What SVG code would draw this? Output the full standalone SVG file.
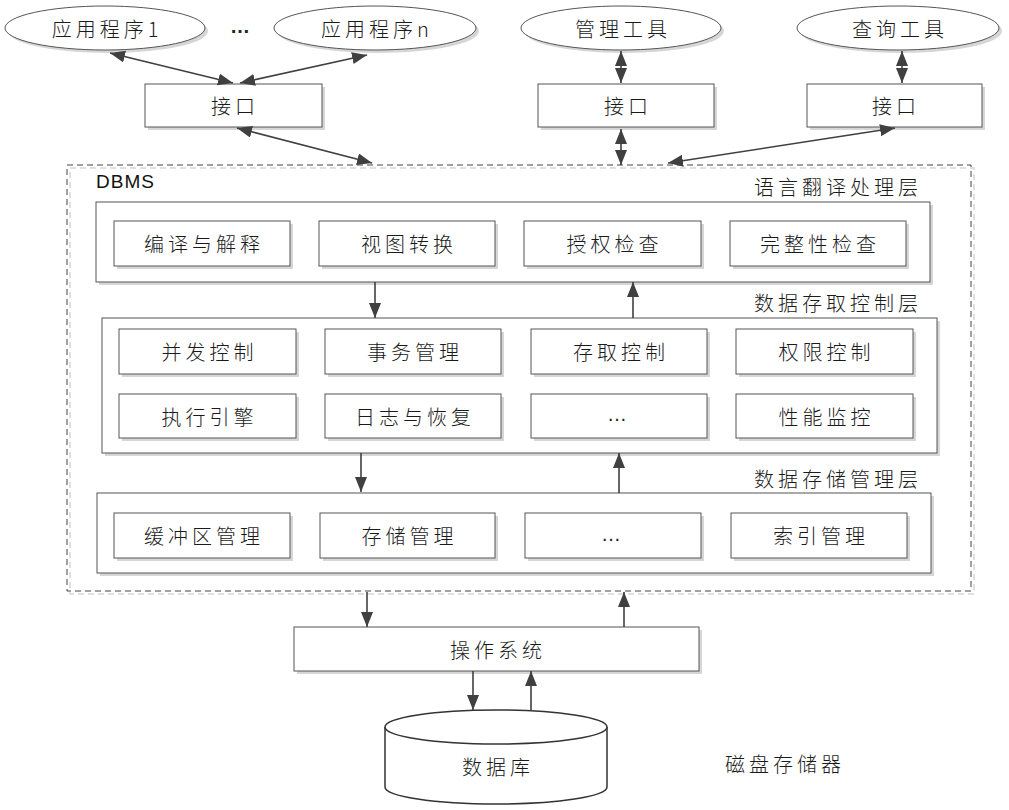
<svg xmlns="http://www.w3.org/2000/svg" width="1009" height="810" viewBox="0 0 1009 810">
<style>
  .bx{fill:#fff;stroke:#555;stroke-width:1}
  .sh{fill:#d6d6d6}
  .t{font-family:"Noto Sans CJK SC","Liberation Sans",sans-serif;font-size:20px;font-weight:300;fill:#1a1a1a;text-anchor:middle;dominant-baseline:central;letter-spacing:4px}
  .lb{font-family:"Noto Sans CJK SC","Liberation Sans",sans-serif;font-size:20px;font-weight:300;fill:#1a1a1a;text-anchor:end;dominant-baseline:central;letter-spacing:4px}
  .dots{font-family:"Liberation Sans",sans-serif;font-size:20px;fill:#222;text-anchor:middle;dominant-baseline:central}
  .ar{stroke:#404040;stroke-width:1.6;fill:none}
</style>
<defs>
  <marker id="ah" markerUnits="userSpaceOnUse" markerWidth="16" markerHeight="13" refX="15" refY="6" orient="auto-start-reverse">
    <path d="M0,0 L15,6 L0,12 z" fill="#404040"/>
  </marker>
</defs>
<rect width="1009" height="810" fill="#fff"/>

<!-- DBMS container -->
<g id="dbms">
  <rect x="70" y="168" width="904" height="426" fill="none" stroke="#e0e0e0" stroke-width="2" stroke-dasharray="6,4"/>
  <rect x="67" y="165" width="904" height="426" fill="none" stroke="#444" stroke-width="1" stroke-dasharray="6,4"/>
  <text x="96" y="181" font-family="Liberation Sans, sans-serif" font-size="19" fill="#111" dominant-baseline="central" letter-spacing="1">DBMS</text>
</g>

<!-- top ellipses -->
<g id="app1">
  <ellipse cx="108" cy="31" rx="100" ry="22" class="sh"/>
  <ellipse cx="105" cy="28" rx="100" ry="22" class="bx"/>
  <text x="107" y="28" class="t" letter-spacing="1">应用程序1</text>
</g>
<text id="dots-top" x="240" y="26" class="dots" font-weight="bold">…</text>
<g id="appn">
  <ellipse cx="378" cy="31" rx="101" ry="22" class="sh"/>
  <ellipse cx="375" cy="28" rx="101" ry="22" class="bx"/>
  <text x="377" y="28" class="t" letter-spacing="1">应用程序n</text>
</g>
<g id="mgmt">
  <ellipse cx="624" cy="31" rx="100" ry="22" class="sh"/>
  <ellipse cx="621" cy="28" rx="100" ry="22" class="bx"/>
  <text x="623" y="28" class="t">管理工具</text>
</g>
<g id="query">
  <ellipse cx="901" cy="31" rx="101" ry="22" class="sh"/>
  <ellipse cx="898" cy="28" rx="101" ry="22" class="bx"/>
  <text x="900" y="28" class="t">查询工具</text>
</g>

<!-- interfaces -->
<g id="if1"><rect x="148" y="87" width="177" height="43" class="sh"/><rect x="145" y="84" width="177" height="43" class="bx"/><text x="235" y="105.5" class="t">接口</text></g>
<g id="if2"><rect x="541" y="87" width="176" height="43" class="sh"/><rect x="538" y="84" width="176" height="43" class="bx"/><text x="628" y="105.5" class="t">接口</text></g>
<g id="if3"><rect x="810" y="87" width="175" height="43" class="sh"/><rect x="807" y="84" width="175" height="43" class="bx"/><text x="896" y="105.5" class="t">接口</text></g>

<!-- layer 1 -->
<g id="layer1">
  <text x="922" y="186" class="lb">语言翻译处理层</text>
  <rect x="99" y="205" width="834" height="80" class="sh"/>
  <rect x="96" y="202" width="834" height="80" class="bx"/>
</g>
<g id="l1a"><rect x="117" y="224" width="176" height="45" class="sh"/><rect x="114" y="221" width="176" height="45" class="bx"/><text x="204" y="243.5" class="t">编译与解释</text></g>
<g id="l1b"><rect x="322" y="224" width="176" height="45" class="sh"/><rect x="319" y="221" width="176" height="45" class="bx"/><text x="409" y="243.5" class="t">视图转换</text></g>
<g id="l1c"><rect x="527" y="224" width="177" height="45" class="sh"/><rect x="524" y="221" width="177" height="45" class="bx"/><text x="614.5" y="243.5" class="t">授权检查</text></g>
<g id="l1d"><rect x="733" y="224" width="176" height="45" class="sh"/><rect x="730" y="221" width="176" height="45" class="bx"/><text x="820" y="243.5" class="t">完整性检查</text></g>

<!-- layer 2 -->
<g id="layer2">
  <text x="922" y="302" class="lb">数据存取控制层</text>
  <rect x="105" y="321" width="835" height="135" class="sh"/>
  <rect x="102" y="318" width="835" height="135" class="bx"/>
</g>
<g id="l2a"><rect x="122" y="332" width="177" height="45" class="sh"/><rect x="119" y="329" width="177" height="45" class="bx"/><text x="209.5" y="351.5" class="t">并发控制</text></g>
<g id="l2b"><rect x="328" y="332" width="176" height="45" class="sh"/><rect x="325" y="329" width="176" height="45" class="bx"/><text x="415" y="351.5" class="t">事务管理</text></g>
<g id="l2c"><rect x="534" y="332" width="176" height="45" class="sh"/><rect x="531" y="329" width="176" height="45" class="bx"/><text x="621" y="351.5" class="t">存取控制</text></g>
<g id="l2d"><rect x="739" y="332" width="177" height="45" class="sh"/><rect x="736" y="329" width="177" height="45" class="bx"/><text x="826.5" y="351.5" class="t">权限控制</text></g>
<g id="l2e"><rect x="122" y="397" width="177" height="44" class="sh"/><rect x="119" y="394" width="177" height="44" class="bx"/><text x="209.5" y="416" class="t">执行引擎</text></g>
<g id="l2f"><rect x="328" y="397" width="176" height="44" class="sh"/><rect x="325" y="394" width="176" height="44" class="bx"/><text x="415" y="416" class="t">日志与恢复</text></g>
<g id="l2g"><rect x="534" y="397" width="176" height="44" class="sh"/><rect x="531" y="394" width="176" height="44" class="bx"/><text x="617" y="414" class="dots">…</text></g>
<g id="l2h"><rect x="739" y="397" width="177" height="44" class="sh"/><rect x="736" y="394" width="177" height="44" class="bx"/><text x="826.5" y="416" class="t">性能监控</text></g>

<!-- layer 3 -->
<g id="layer3">
  <text x="922" y="478" class="lb">数据存储管理层</text>
  <rect x="100" y="496" width="834" height="80" class="sh"/>
  <rect x="97" y="493" width="834" height="80" class="bx"/>
</g>
<g id="l3a"><rect x="117" y="516" width="176" height="45" class="sh"/><rect x="114" y="513" width="176" height="45" class="bx"/><text x="204" y="535.5" class="t">缓冲区管理</text></g>
<g id="l3b"><rect x="323" y="516" width="175" height="45" class="sh"/><rect x="320" y="513" width="175" height="45" class="bx"/><text x="409.5" y="535.5" class="t">存储管理</text></g>
<g id="l3c"><rect x="528" y="516" width="176" height="45" class="sh"/><rect x="525" y="513" width="176" height="45" class="bx"/><text x="611" y="533.5" class="dots">…</text></g>
<g id="l3d"><rect x="734" y="516" width="176" height="45" class="sh"/><rect x="731" y="513" width="176" height="45" class="bx"/><text x="821" y="535.5" class="t">索引管理</text></g>

<!-- OS -->
<g id="os"><rect x="297" y="630" width="405" height="44" class="sh"/><rect x="294" y="627" width="405" height="44" class="bx"/><text x="498" y="649" class="t">操作系统</text></g>

<!-- database cylinder -->
<g id="db">
  <path d="M385,727 L385,787 A111,17 0 0 0 607,787 L607,727" fill="#fff" stroke="#333" stroke-width="1.5"/>
  <ellipse cx="496" cy="727" rx="111" ry="17" fill="#fff" stroke="#333" stroke-width="1.5"/>
  <text x="498" y="766" class="t" letter-spacing="2">数据库</text>
</g>
<text id="disk" x="785" y="763" class="t" letter-spacing="3">磁盘存储器</text>

<!-- connectors -->
<g id="connectors">
  <line x1="110" y1="53" x2="233" y2="83" class="ar" marker-start="url(#ah)" marker-end="url(#ah)"/>
  <line x1="367" y1="55" x2="240" y2="83" class="ar" marker-start="url(#ah)" marker-end="url(#ah)"/>
  <line x1="237" y1="128" x2="372" y2="163" class="ar" marker-start="url(#ah)" marker-end="url(#ah)"/>
  <line x1="621" y1="51" x2="621" y2="83" class="ar" marker-start="url(#ah)" marker-end="url(#ah)"/>
  <line x1="621" y1="129" x2="621" y2="165" class="ar" marker-start="url(#ah)" marker-end="url(#ah)"/>
  <line x1="902" y1="51" x2="902" y2="83" class="ar" marker-start="url(#ah)" marker-end="url(#ah)"/>
  <line x1="895" y1="128" x2="668" y2="163" class="ar" marker-start="url(#ah)" marker-end="url(#ah)"/>
  <line x1="375" y1="282" x2="375" y2="318" class="ar" marker-end="url(#ah)"/>
  <line x1="633" y1="318" x2="633" y2="282" class="ar" marker-end="url(#ah)"/>
  <line x1="361" y1="453" x2="361" y2="492" class="ar" marker-end="url(#ah)"/>
  <line x1="619" y1="493" x2="619" y2="453" class="ar" marker-end="url(#ah)"/>
  <line x1="367" y1="592" x2="367" y2="627" class="ar" marker-end="url(#ah)"/>
  <line x1="624" y1="627" x2="624" y2="592" class="ar" marker-end="url(#ah)"/>
  <line x1="473" y1="671" x2="473" y2="710" class="ar" marker-end="url(#ah)"/>
  <line x1="531" y1="711" x2="531" y2="671" class="ar" marker-end="url(#ah)"/>
</g>
</svg>
